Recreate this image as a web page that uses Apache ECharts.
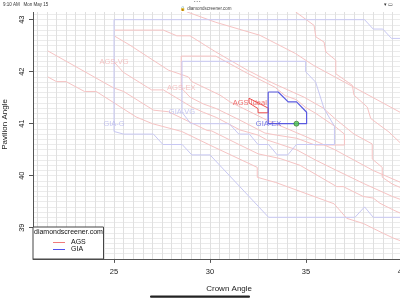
<!DOCTYPE html>
<html><head><meta charset="utf-8">
<script src="https://cdn.jsdelivr.net/npm/echarts@6/dist/echarts.min.js"></script>
<style>html,body{margin:0;padding:0;background:#fff;overflow:hidden;width:400px;height:300px}#c{width:440px;height:300px}</style>
</head><body><div id="c"></div>
<script>
const xTicks = [25, 30, 35, 40];
const yTicks = [39, 40, 41, 42, 43];
// AGS (faint red) boundary lines
const agsTop = [[28.8,43.15],[30.3,42.95],[32.6,42.7],[34.45,42.35],[35.4,42.12],[39.9,41.22],[41,41.0]];
const agsSteep = [[34.46,43.15],[35.42,42.89],[35.51,42.67],[35.94,42.57],[36.03,42.38],[36.55,42.22],[36.55,41.96],[37.41,41.74],[37.5,41.55],[38.19,41.32],[38.37,41.1],[39.32,40.84],[40.0,40.6],[41,40.4]];
const agsVGTop = [[25.05,42.8],[27.57,42.8],[28.27,42.69],[28.96,42.69],[30.3,42.38],[31.94,42.03],[33.33,41.77],[34.9,41.51],[35.9,41.3],[36.5,41.1],[37.5,40.8],[38.45,40.61],[38.45,40.32],[38.97,40.16],[38.97,39.97],[39.49,39.84],[41,39.6]];
const agsVGLow = [[25.0,42.19],[25.48,41.99],[26.96,41.65],[27.57,41.65],[29.05,41.32],[29.65,41.22],[30.33,41.12],[31.56,40.88],[32.51,40.78],[32.95,40.69],[34.5,40.5],[35.5,40.3],[36.6,40.1],[38.0,39.85],[39.5,39.6],[41,39.4]];
const agsMid = [[25.05,42.68],[25.83,42.51],[27.83,42.03],[28.87,41.9],[29.05,41.81],[30.52,41.55],[31.04,41.42],[32.95,41.07],[35.0,40.75],[36.5,40.5],[38.5,40.1],[41,39.7]];
const agsEXTop = [[28.5,41.69],[28.5,42.3],[30.3,42.3],[31.94,41.97],[33.39,41.70],[33.91,41.54],[34.51,41.46],[34.95,41.32],[35.5,41.2],[36.5,40.95],[37.0,40.8],[37.0,40.59]];
const agsEXLow = [[28.5,41.69],[28.96,41.51],[29.65,41.38],[30.33,41.29],[31.5,41.08],[32.86,40.82],[33.47,40.78],[34.51,40.72],[35.47,40.59],[37.0,40.59]];
const agsLowA = [[21.55,42.40],[24.97,41.69],[25.5,41.62],[27.06,41.26],[27.84,41.23],[29.85,40.87],[30.09,40.86],[31.56,40.59],[32.51,40.42],[33.65,40.33],[34.69,40.2],[36.6,39.79],[36.94,39.79],[37.98,39.6],[38.5,39.57],[38.85,39.47],[39.55,39.34],[41,39.1]];
const agsLowB = [[21.55,41.90],[22.0,41.81],[22.5,41.81],[23.46,41.62],[24.07,41.62],[26.15,41.13],[27.0,41.0],[28.53,40.85],[30.21,40.55],[32.46,40.16],[32.46,39.97],[33.42,39.87],[36.46,39.46],[37.12,39.18],[37.99,39.08],[39.03,38.89],[39.55,38.8],[41,38.6]];
const agsIdeal = [[32.03,41.49],[33.03,41.30],[33.03,41.21],[32.5,41.21],[32.5,41.29],[32.03,41.40],[32.03,41.49]];
// GIA (faint blue) boundary lines
const giaG = [[38.05,43.0],[25.0,43.0],[25.0,40.85],[25.5,40.8],[27.05,40.8],[27.55,40.6],[28.55,40.6],[29.05,40.4],[30.0,40.4],[33.05,39.2],[37.55,39.2],[38.05,39.4],[38.5,39.2],[41,39.2]];
const giaGTop = [[38.05,43.0],[38.5,42.82],[39.0,42.82],[39.45,42.64],[41,42.64]];
const giaVG = [[28.54,41.22],[28.54,42.2],[34.98,42.2],[34.98,42.0],[35.5,41.8],[35.94,41.29],[36.48,40.95],[36.48,40.6],[34.5,40.6],[34.05,40.4],[33.5,40.4],[33.05,40.6],[32.5,40.6],[32.05,40.8],[31.5,40.8],[31.0,41.0],[29.0,41.0],[28.54,41.22]];
const giaEX = [[33.03,41.61],[33.55,41.61],[34.07,41.42],[34.51,41.42],[35.03,41.22],[35.03,41.0],[33.03,41.0],[33.03,41.61]];
// region labels
const labelNames = ['AGS-VG','AGS-EX','AGS Ideal','GIA-G','GIA-VG','GIA-EX'];
const labelX = [25.0, 28.5, 32.07, 25.0, 28.54, 33.05];
const labelY = [42.19, 41.69, 41.40, 41.0, 41.22, 41.0];
const labelColor = ['#f3b4b4','#f3b4b4','#ec4a4a','#b8b8ef','#b8b8ef','#5858e0'];
const currentPoint = [[34.5, 41.0]];

const C = {ags:'#f6c3c3', agsStrong:'#ee4f4f', gia:'#c8c8f3', giaStrong:'#5a5ae0'};
const chart = echarts.init(document.getElementById('c'), null, {renderer:'canvas', width:440, height:300});
const FONT = 'Liberation Sans, Arial, sans-serif';
const X0 = 20.78, X1 = 41, Y0 = 38.4, Y1 = 43.3;
const PXX = 19.2, PXY = 52;
const gLeft = 33, gTop = 19.7 - (Y1-43)*PXY, gW = (X1-X0)*PXX, gH = (Y1-Y0)*PXY;

function lineSeries(data, color, w, z){
  return {type:'line', data:data, xAxisIndex:0, yAxisIndex:0, symbol:'none', silent:true, animation:false,
    lineStyle:{color:color, width:w}, z:z||2, clip:false};
}
const series = [
  lineSeries(agsTop, C.ags, 1), lineSeries(agsSteep, C.ags, 1), lineSeries(agsVGTop, C.ags, 1),
  lineSeries(agsVGLow, C.ags, 1), lineSeries(agsMid, C.ags, 1), lineSeries(agsEXTop, C.ags, 1),
  lineSeries(agsEXLow, C.ags, 1), lineSeries(agsLowA, C.ags, 1), lineSeries(agsLowB, C.ags, 1),
  lineSeries(giaG, C.gia, 1, 3), lineSeries(giaGTop, C.gia, 1, 3), lineSeries(giaVG, C.gia, 1, 3),
  lineSeries(agsIdeal, C.agsStrong, 1, 4), lineSeries(giaEX, C.giaStrong, 1.2, 4),
  {type:'scatter', xAxisIndex:0, yAxisIndex:0, symbolSize:0, silent:true, animation:false, z:5,
    data: labelNames.map((n,i)=>({value:[labelX[i],labelY[i]], name:n, label:{color:labelColor[i]}})),
    label:{show:true, position:'inside', fontFamily:FONT, fontSize:7.5, formatter:p=>p.name}
  },
  {type:'scatter', xAxisIndex:0, yAxisIndex:0, data:currentPoint, symbol:'circle', symbolSize:5, z:6, silent:true, animation:false,
    itemStyle:{color:'#4fc94f', borderColor:'#2a6e2a', borderWidth:0.8}}
];

const option = {
  animation:false,
  backgroundColor:'#fff',
  grid:[
    {left:gLeft, top:gTop, width:gW, height:gH, containLabel:false, outerBoundsMode:'none'},
    {left:gLeft-(X0-20.5)*PXX, top:gTop, width:(X1-20.5)*PXX, height:gH, containLabel:false, outerBoundsMode:'none'}
  ],
  xAxis:[
    {type:'value', gridIndex:0, min:X0, max:X1, position:'bottom',
      axisLine:{show:true, onZero:false, lineStyle:{color:'#555', width:1}},
      axisTick:{show:true, length:4, customValues:xTicks, lineStyle:{color:'#555'}},
      axisLabel:{show:true, customValues:xTicks, margin:9, fontFamily:FONT, fontSize:7.5, color:'#222'},
      splitLine:{show:false},
      name:'Crown Angle', nameLocation:'middle', nameGap:26, nameTextStyle:{fontFamily:FONT, fontSize:8, color:'#222', padding:[0,0,0,4]}},
    {type:'value', gridIndex:1, min:20.5, max:X1, interval:0.5,
      axisLine:{show:false}, axisTick:{show:false}, axisLabel:{show:false},
      splitLine:{show:true, showMinLine:false, lineStyle:{color:'#e0e0e0', width:1}}}
  ],
  yAxis:[
    {type:'value', gridIndex:0, min:Y0, max:Y1, position:'left',
      axisLine:{show:true, onZero:false, lineStyle:{color:'#555', width:1}},
      axisTick:{show:true, length:4, customValues:yTicks, lineStyle:{color:'#555'}},
      axisLabel:{show:true, customValues:yTicks, rotate:90, margin:7, fontFamily:FONT, fontSize:7.5, color:'#222'},
      splitLine:{show:false},
      name:'Pavilion Angle', nameLocation:'middle', nameGap:24, nameRotate:90, nameTextStyle:{fontFamily:FONT, fontSize:8, color:'#222', padding:[0,0,0,14]}},
    {type:'value', gridIndex:0, min:Y0, max:Y1, interval:0.1,
      axisLine:{show:false}, axisTick:{show:false}, axisLabel:{show:false},
      splitLine:{show:true, showMinLine:false, lineStyle:{color:'#ebebeb', width:1}}},
    {type:'value', gridIndex:1, min:Y0, max:Y1, show:false, splitLine:{show:false}}
  ],
  series: series,
  graphic:[
    {type:'rect', left:0, top:0, shape:{width:440, height:12}, style:{fill:'#fff'}, z:100},
    {type:'text', left:3, top:2, style:{text:'9:10 AM   Mon May 15', fontSize:4.5, fontFamily:FONT, fill:'#333'}, z:101},
    {type:'text', left:194, top:0, style:{text:'• • •', fontSize:4, fontFamily:FONT, fill:'#777'}, z:101},
    {type:'text', left:180, top:6, style:{text:'🔒 diamondscreener.com', fontSize:4.5, fontFamily:FONT, fill:'#444'}, z:101},
    {type:'text', left:384, top:2, style:{text:'▾ ▭', fontSize:5, fontFamily:FONT, fill:'#333'}, z:101},
    {type:'rect', left:32.5, top:226.5, shape:{width:70.5, height:32}, style:{fill:'#fff', stroke:'#444', lineWidth:1}, z:50},
    {type:'text', left:34, top:229, style:{text:'diamondscreener.com', fontSize:7, fontFamily:FONT, fill:'#111'}, z:51},
    {type:'line', shape:{x1:53, y1:242.5, x2:65, y2:242.5}, style:{stroke:'#f07a7a', lineWidth:1}, z:51},
    {type:'line', shape:{x1:53, y1:249.5, x2:65, y2:249.5}, style:{stroke:'#5050ee', lineWidth:1}, z:51},
    {type:'text', left:71, top:239, style:{text:'AGS', fontSize:7, fontFamily:FONT, fill:'#111'}, z:51},
    {type:'text', left:71, top:246, style:{text:'GIA', fontSize:7, fontFamily:FONT, fill:'#111'}, z:51},
    {type:'rect', left:150, top:295.5, shape:{width:100, height:2.2, r:1}, style:{fill:'#222'}, z:100}
  ]
};
chart.setOption(option);
</script></body></html>
